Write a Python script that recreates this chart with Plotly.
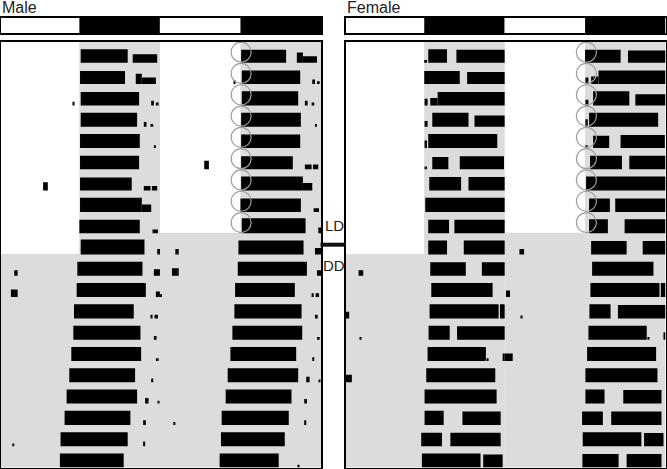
import plotly.graph_objects as go

W, H = 667, 469
N_ROWS = 20          # double-plotted rows
N_LD_DAYS = 10       # days 0..9 in LD, then DD
CIRCLE_ROWS = 9      # rows marked with a circle at lights-off

# LD schedule of the top bar (hours, 0-48 double plotted)
LIGHT_BAR_START = [0, 12, 24, 36]
LIGHT_BAR_END = [12, 24, 36, 48]
LIGHT_BAR_STATE = ["light", "dark", "light", "dark"]

# activity bouts per day: (start hour, end hour, relative height)
MALE_DAYS = [
    [(12.2, 19.2, 0.72), (19.95, 23.6, 0.45)],
    [(12.1, 18.8, 0.70), (20.4, 21.3, 0.55), (21.3, 23.4, 0.35)],
    [(11.0, 11.2, 0.20), (12.2, 20.9, 0.72), (22.7, 23.1, 0.25), (23.4, 23.8, 0.15)],
    [(12.2, 20.6, 0.75), (21.6, 22.0, 0.25), (22.6, 23.0, 0.15)],
    [(12.1, 21.0, 0.75), (23.1, 23.4, 0.15)],
    [(12.1, 20.9, 0.72)],
    [(6.6, 7.3, 0.45), (12.1, 19.8, 0.70), (21.6, 22.6, 0.25), (22.8, 23.6, 0.25)],
    [(12.1, 21.3, 0.75), (21.3, 22.7, 0.40)],
    [(12.0, 21.0, 0.72), (22.9, 23.7, 0.20)],
    [(12.2, 21.7, 0.80), (23.6, 24.0, 0.30)],
    [(2.3, 2.8, 0.30), (11.7, 21.4, 0.75), (23.1, 24.0, 0.35)],
    [(1.8, 2.8, 0.40), (11.6, 21.9, 0.75), (23.4, 24.0, 0.30)],
    [(0.0, 0.3, 0.15), (11.2, 20.1, 0.75), (22.6, 22.9, 0.20), (23.2, 23.7, 0.20)],
    [(11.1, 21.1, 0.75), (23.1, 23.5, 0.20)],
    [(10.8, 21.2, 0.75), (23.4, 23.8, 0.15)],
    [(10.5, 20.3, 0.75), (22.7, 23.0, 0.20)],
    [(10.1, 20.6, 0.75), (21.8, 22.3, 0.30), (23.7, 23.9, 0.15)],
    [(9.8, 19.6, 0.75), (21.5, 21.9, 0.25)],
    [(2.0, 2.3, 0.15), (9.2, 19.2, 0.75), (21.5, 21.8, 0.25)],
    [(9.1, 18.6, 0.75)],
    [(8.9, 17.7, 0.75), (20.5, 20.7, 0.15)],
]

FEMALE_DAYS = [
    [(12.0, 12.4, 0.15), (12.6, 15.4, 0.72), (16.8, 24.0, 0.70)],
    [(12.0, 17.3, 0.70), (18.4, 24.0, 0.65)],
    [(12.05, 12.5, 0.35), (12.9, 14.0, 0.40), (14.0, 24.0, 0.72)],
    [(12.05, 12.5, 0.30), (13.2, 18.6, 0.75), (19.5, 24.0, 0.60)],
    [(12.05, 12.4, 0.40), (12.6, 22.9, 0.75)],
    [(12.05, 12.4, 0.15), (13.2, 15.6, 0.65), (17.3, 23.9, 0.70)],
    [(12.75, 17.5, 0.72), (18.6, 24.0, 0.72)],
    [(12.15, 24.0, 0.75)],
    [(12.6, 15.7, 0.72), (16.5, 24.0, 0.72)],
    [(12.6, 15.4, 0.75), (17.9, 24.0, 0.75)],
    [(2.2, 2.9, 0.30), (12.9, 18.2, 0.72), (20.6, 24.0, 0.72)],
    [(13.05, 22.2, 0.75)],
    [(0.2, 0.8, 0.35), (12.8, 23.1, 0.75), (23.3, 24.0, 0.75)],
    [(2.4, 2.6, 0.15), (12.65, 15.8, 0.75), (16.9, 24.0, 0.72)],
    [(12.5, 21.2, 0.75), (21.3, 21.6, 0.15), (23.7, 24.0, 0.40)],
    [(0.0, 1.2, 0.40), (12.3, 22.6, 0.75)],
    [(12.05, 22.8, 0.75)],
    [(12.05, 14.9, 0.75), (17.7, 23.4, 0.72)],
    [(11.55, 14.65, 0.72), (15.9, 23.4, 0.72)],
    [(11.65, 20.4, 0.75), (20.8, 23.7, 0.70)],
    [(11.6, 17.0, 0.72), (18.2, 23.4, 0.72)],
]

GRAY = "#dcdcdc"
INK = "#000000"
FONT = "Liberation Sans, Arial, sans-serif"
HEIGHT_SCALE = 0.88   # visual scale of bout height within a row


def panel_traces(days, xa, ya, circle_x):
    traces = []
    # shading: dark phase in LD, everything in DD
    gx, gw, gb = [], [], []
    for r in range(N_ROWS):
        for half in (0, 1):
            d = r + half
            off = 24 * half
            s, e = (12, 24) if d < N_LD_DAYS else (0, 24)
            gx.append(off + (s + e) / 2)
            gw.append(e - s + 0.03)
            gb.append(r + 1.02)
    traces.append(go.Bar(x=gx, y=[-1.04] * len(gx), base=gb, width=gw,
                         marker=dict(color=GRAY, line=dict(width=0)),
                         xaxis=xa, yaxis=ya, hoverinfo="skip"))
    # activity
    ax, aw, ab, ah = [], [], [], []
    for r in range(N_ROWS):
        for half in (0, 1):
            d = r + half
            for s, e, h in days[d]:
                ax.append(24 * half + (s + e) / 2)
                aw.append(e - s)
                ab.append(r + 1)
                ah.append(-h * HEIGHT_SCALE)
    traces.append(go.Bar(x=ax, y=ah, base=ab, width=aw,
                         marker=dict(color=INK, line=dict(width=0)),
                         xaxis=xa, yaxis=ya, hoverinfo="skip"))
    # circles at lights-off
    traces.append(go.Scatter(x=[circle_x] * CIRCLE_ROWS,
                             y=[r + 0.5 for r in range(CIRCLE_ROWS)],
                             mode="markers",
                             marker=dict(symbol="circle-open", size=20,
                                         color="#a0a0a0", line=dict(width=1.2)),
                             xaxis=xa, yaxis=ya, hoverinfo="skip"))
    return traces


def bar_traces(xa, ya):
    cols = ["white" if s == "light" else "black" for s in LIGHT_BAR_STATE]
    return [go.Bar(x=[(a + b) / 2 for a, b in zip(LIGHT_BAR_START, LIGHT_BAR_END)],
                   y=[1] * 4, base=[0] * 4,
                   width=[b - a for a, b in zip(LIGHT_BAR_START, LIGHT_BAR_END)],
                   marker=dict(color=cols, line=dict(width=0)),
                   xaxis=xa, yaxis=ya, hoverinfo="skip")]


fig = go.Figure()
for t in panel_traces(MALE_DAYS, "x", "y", 36.1):
    fig.add_trace(t)
for t in panel_traces(FEMALE_DAYS, "x2", "y2", 36.2):
    fig.add_trace(t)
for t in bar_traces("x3", "y3"):
    fig.add_trace(t)
for t in bar_traces("x4", "y4"):
    fig.add_trace(t)


def px(v):
    return v / W


def py(v):
    return 1 - v / H


male_dom = [px(0.5), px(321)]
female_dom = [px(345.5), px(665.5)]
main_ydom = [py(467.5), py(41.5)]
bar_ydom = [py(33.3), py(17.7)]

ax_common = dict(showgrid=False, zeroline=False, showticklabels=False, ticks="",
                 showline=True, mirror=True, linecolor="black", linewidth=1.5,
                 fixedrange=True)

fig.update_layout(
    width=W, height=H,
    margin=dict(l=0, r=0, t=0, b=0),
    paper_bgcolor="white", plot_bgcolor="white",
    barmode="overlay", showlegend=False,
    xaxis=dict(domain=male_dom, range=[0.25, 48], anchor="y", **ax_common),
    yaxis=dict(domain=main_ydom, range=[N_ROWS, 0], anchor="x", **ax_common),
    xaxis2=dict(domain=female_dom, range=[0.25, 48], anchor="y2", **ax_common),
    yaxis2=dict(domain=main_ydom, range=[N_ROWS, 0], anchor="x2", **ax_common),
    xaxis3=dict(domain=male_dom, range=[0.25, 48], anchor="y3", **ax_common),
    yaxis3=dict(domain=bar_ydom, range=[0, 1], anchor="x3", **ax_common),
    xaxis4=dict(domain=female_dom, range=[0.25, 48], anchor="y4", **ax_common),
    yaxis4=dict(domain=bar_ydom, range=[0, 1], anchor="x4", **ax_common),
    annotations=[
        dict(text="Male", x=px(0), y=py(8), xref="paper", yref="paper",
             xanchor="left", yanchor="middle", showarrow=False,
             font=dict(family=FONT, size=16, color="#222")),
        dict(text="Female", x=px(345), y=py(8), xref="paper", yref="paper",
             xanchor="left", yanchor="middle", showarrow=False,
             font=dict(family=FONT, size=16, color="#222")),
        dict(text="LD", x=px(334), y=py(226), xref="paper", yref="paper",
             xanchor="center", yanchor="middle", showarrow=False,
             font=dict(family=FONT, size=15, color="#222")),
        dict(text="DD", x=px(334), y=py(265), xref="paper", yref="paper",
             xanchor="center", yanchor="middle", showarrow=False,
             font=dict(family=FONT, size=15, color="#222")),
    ],
    shapes=[
        dict(type="rect", xref="paper", yref="paper",
             x0=px(320.5), x1=px(346), y0=py(246.7), y1=py(242.7),
             fillcolor="#111", line=dict(width=0)),
    ],
)

fig.write_html("out.html", config={"displayModeBar": False},
               post_script="document.body.style.margin='0';document.body.style.padding='0';")
